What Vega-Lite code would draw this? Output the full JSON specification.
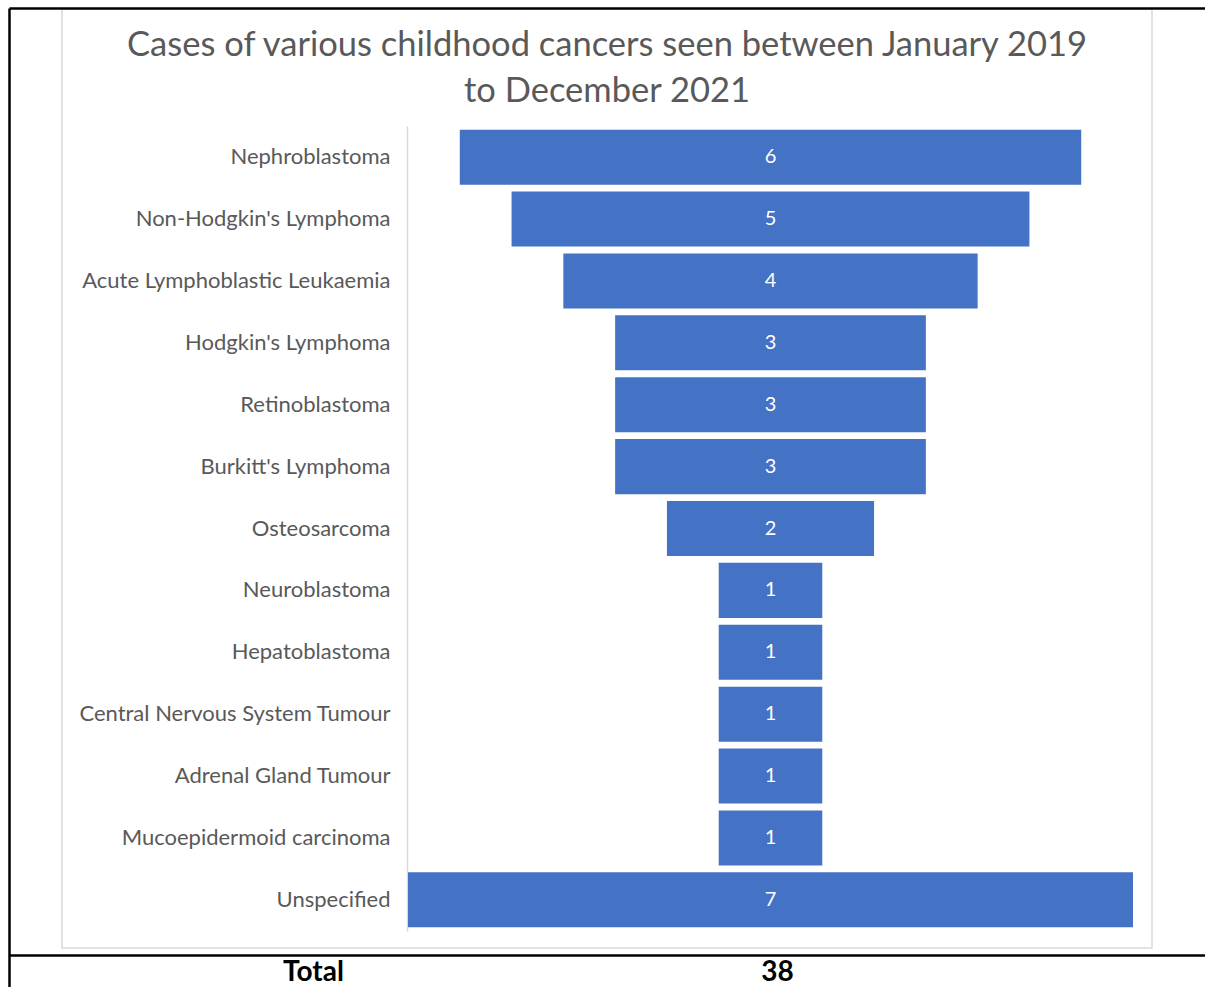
{
  "$schema": "https://vega.github.io/schema/vega-lite/v6.json",
  "width": 1090,
  "height": 939,
  "autosize": {"type": "none"},
  "padding": {"left": 62, "top": 9, "right": 53, "bottom": 39},
  "background": "#ffffff",
  "title": {
    "text": ["Cases of various childhood cancers seen between January 2019", "to December 2021"],
    "font": "Lato",
    "fontSize": 34.5,
    "fontWeight": "normal",
    "color": "#595959",
    "frame": "group",
    "anchor": "middle",
    "orient": "top",
    "lineHeight": 46,
    "offset": -103
  },
  "config": {
    "view": {"stroke": "#d9d9d9", "strokeWidth": 1.5},
    "font": "Lato"
  },
  "data": {
    "values": [
      {"cancer": "Nephroblastoma", "cases": 6},
      {"cancer": "Non-Hodgkin's Lymphoma", "cases": 5},
      {"cancer": "Acute Lymphoblastic Leukaemia", "cases": 4},
      {"cancer": "Hodgkin's Lymphoma", "cases": 3},
      {"cancer": "Retinoblastoma", "cases": 3},
      {"cancer": "Burkitt's Lymphoma", "cases": 3},
      {"cancer": "Osteosarcoma", "cases": 2},
      {"cancer": "Neuroblastoma", "cases": 1},
      {"cancer": "Hepatoblastoma", "cases": 1},
      {"cancer": "Central Nervous System Tumour", "cases": 1},
      {"cancer": "Adrenal Gland Tumour", "cases": 1},
      {"cancer": "Mucoepidermoid carcinoma", "cases": 1},
      {"cancer": "Unspecified", "cases": 7}
    ]
  },
  "encoding": {
    "y": {
      "field": "cancer",
      "type": "nominal",
      "sort": null,
      "scale": {"range": [117, 922], "paddingInner": 0.111, "paddingOuter": 0.06, "align": 0.5},
      "axis": {
        "title": null,
        "orient": "left",
        "offset": -345,
        "domainColor": "#d9d9d9",
        "domainWidth": 1.5,
        "ticks": false,
        "labelPadding": 17,
        "labelFont": "Lato",
        "labelFontSize": 22,
        "labelColor": "#595959",
        "labelLimit": 400
      }
    }
  },
  "layer": [
    {
      "mark": {"type": "bar", "color": "#4472C4"},
      "encoding": {
        "x": {
          "field": "cases",
          "type": "quantitative",
          "stack": "center",
          "scale": {"domain": [-3.8524, 7.6952], "range": [-53, 1143], "nice": false, "zero": false},
          "axis": {
            "orient": "bottom",
            "offset": 7,
            "title": null,
            "grid": false,
            "values": [-0.917, 3.563],
            "labelExpr": "datum.value < 0 ? 'Total' : '38'",
            "domainColor": "#000000",
            "domainWidth": 2.5,
            "ticks": false,
            "labelPadding": 17,
            "labelBaseline": "middle",
            "labelFont": "Lato",
            "labelFontSize": 28,
            "labelFontWeight": "bold",
            "labelColor": "#000000",
            "labelFlush": false,
            "labelOverlap": false
          }
        }
      }
    },
    {
      "mark": {"type": "text", "color": "#ffffff", "font": "Lato", "fontSize": 20, "baseline": "middle", "align": "center"},
      "encoding": {
        "x": {
          "field": "cases",
          "type": "quantitative",
          "stack": "center",
          "bandPosition": 0.5,
          "scale": {"domain": [-3.8524, 7.6952], "range": [-53, 1143], "nice": false, "zero": false},
          "axis": {
            "orient": "top",
            "offset": 1,
            "title": null,
            "grid": false,
            "labels": false,
            "values": [-3.8524],
            "ticks": true,
            "tickSize": -979,
            "tickWidth": 2.5,
            "tickColor": "#000000",
            "domainColor": "#000000",
            "domainWidth": 2.5
          }
        },
        "text": {"field": "cases", "type": "quantitative"}
      }
    }
  ],
  "resolve": {"axis": {"x": "independent"}}
}
